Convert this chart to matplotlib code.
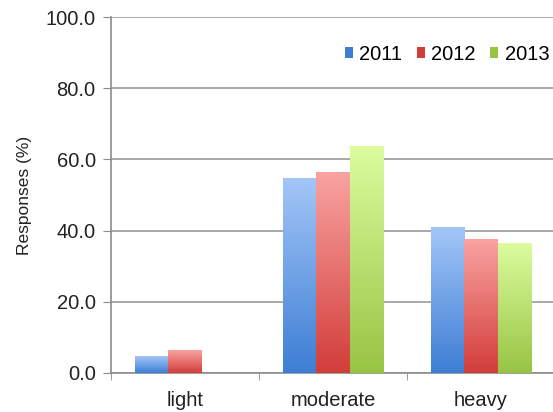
import numpy as np
import matplotlib.pyplot as plt
from matplotlib.colors import LinearSegmentedColormap
from matplotlib.patches import Patch

plt.rcParams['font.family'] = ['Liberation Sans', 'DejaVu Sans']

categories = ['light', 'moderate', 'heavy']
years = ['2011', '2012', '2013']
resp_2011 = [4.5, 54.6, 40.9]
resp_2012 = [6.3, 56.3, 37.5]
resp_2013 = [0.0, 63.7, 36.3]
series = [resp_2011, resp_2012, resp_2013]

# (top colour, bottom colour) for each year's gradient fill
shades = [('#a3c6f7', '#3d7ed4'), ('#f9a3a1', '#d23d3a'), ('#dcfc9e', '#98c443')]

fig = plt.figure(figsize=(5.53, 4.12), dpi=100)
ax = fig.add_axes([111 / 553, 39 / 412, 444 / 553, 356 / 412])

x = np.arange(len(categories))
w = 0.223
for k, (vals, (top, bot)) in enumerate(zip(series, shades)):
    bars = ax.bar(x + (k - 1) * w, vals, w, color='none', edgecolor='none', zorder=3)
    cmap = LinearSegmentedColormap.from_list('g%d' % k, [bot, top])
    grad = np.linspace(0, 1, 256).reshape(-1, 1)
    for b in bars:
        if b.get_height() <= 0:
            continue
        x0, y0 = b.get_x(), b.get_y()
        ax.imshow(grad, cmap=cmap, origin='lower', aspect='auto', zorder=3,
                  extent=[x0, x0 + b.get_width(), y0, y0 + b.get_height()])

ax.set_xlim(-0.5, 2.5)
ax.set_ylim(0, 100)
ax.set_yticks(np.arange(0, 101, 20))
ax.set_yticklabels(['%.1f' % v for v in np.arange(0, 101, 20)], fontsize=14.5, color='#222222')
ax.set_ylabel('Responses (%)', fontsize=12.5, color='#222222', labelpad=10)

ax.set_xticks(x)
ax.set_xticklabels(categories, fontsize=14.5, color='#222222')
ax.tick_params(axis='x', length=0, pad=13)
ax.set_xticks([-0.5, 0.5, 1.5, 2.5], minor=True)
ax.tick_params(axis='x', which='minor', length=5, color='#8c8c8c', direction='out')
ax.tick_params(axis='y', length=6, color='#8c8c8c', direction='out', pad=5)

ax.grid(axis='y', color='#9a9a9a', linewidth=1.2, zorder=0)
for side in ['top', 'right']:
    ax.spines[side].set_visible(False)
for side in ['left', 'bottom']:
    ax.spines[side].set_color('#8c8c8c')
    ax.spines[side].set_linewidth(1.2)

handles = [Patch(facecolor=bot, edgecolor='none') for top, bot in shades]
ax.legend(handles, years, loc='upper right', bbox_to_anchor=(1.005, 0.945), ncol=3,
          frameon=False, fontsize=14.5, handlelength=0.4, handleheight=0.4,
          handletextpad=0.3, columnspacing=0.75, borderaxespad=0)

fig.savefig('out.png', dpi=100)
